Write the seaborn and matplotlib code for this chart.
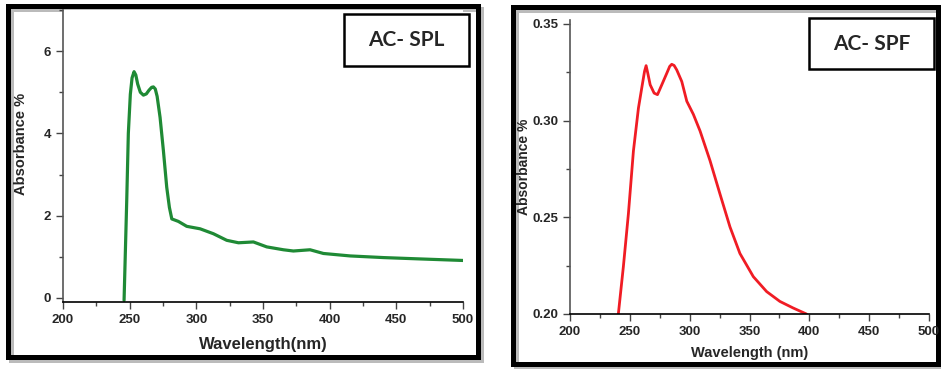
import numpy as np
import pandas as pd
import matplotlib
matplotlib.use("Agg")
import matplotlib.pyplot as plt
from matplotlib.patches import Rectangle
from matplotlib.ticker import MultipleLocator
import seaborn as sns

# AC- SPL spectrum (left)
spl_wl = [245.8, 247.8, 249.0, 250.5, 251.8, 253.3, 254.6, 256.0, 258.0, 260.3,
          262.5, 264.5, 266.5, 267.8, 269.2, 270.6, 272.8, 275.3, 277.8, 279.8,
          281.6, 286.5, 292.8, 302.8, 312.8, 322.8, 331.6, 342.8, 352.8, 365.3,
          372.8, 385.3, 395.3, 415.4, 440.4, 465.4, 500.0]
spl_abs = [-0.06, 2.37, 4.0, 4.95, 5.35, 5.5, 5.42, 5.2, 5.0, 4.93,
           4.96, 5.05, 5.12, 5.13, 5.08, 4.9, 4.39, 3.58, 2.69, 2.2,
           1.92, 1.86, 1.74, 1.68, 1.56, 1.40, 1.34, 1.36, 1.24, 1.17,
           1.14, 1.17, 1.08, 1.02, 0.98, 0.95, 0.91]

# AC- SPF spectrum (right)
spf_wl = [240.4, 244.6, 248.8, 253.0, 257.2, 260.0, 262.3, 263.6, 265.0, 267.0,
          270.3, 273.1, 276.7, 280.9, 283.3, 285.0, 287.0, 289.2, 293.4, 297.6,
          303.1, 308.7, 317.0, 325.3, 333.7, 342.0, 353.2, 364.3, 375.4, 386.5, 397.6]
spf_abs = [0.200, 0.2245, 0.2518, 0.2843, 0.3065, 0.3170, 0.3255, 0.3284, 0.3245, 0.3185,
           0.3142, 0.3134, 0.3185, 0.3245, 0.3280, 0.3291, 0.3285, 0.3262, 0.3202, 0.3100,
           0.3032, 0.2946, 0.2793, 0.2621, 0.2450, 0.2313, 0.2193, 0.2116, 0.2065, 0.2031, 0.2000]

df_spl = pd.DataFrame({"wl": spl_wl, "abs": spl_abs})
df_spf = pd.DataFrame({"wl": spf_wl, "abs": spf_abs})

sns.set_style("ticks")
plt.rcParams["font.family"] = ["Liberation Sans", "DejaVu Sans"]
plt.rcParams["font.weight"] = "bold"

W, H = 941, 369
fig = plt.figure(figsize=(W / 100, H / 100), dpi=100)

def px_box(x0, y0, x1, y1):
    # pixel rectangle (top-left origin) -> figure fraction [left, bottom, w, h]
    return [x0 / W, 1 - y1 / H, (x1 - x0) / W, (y1 - y0) / H]

ax1 = fig.add_axes(px_box(63, 10, 463, 302))
ax2 = fig.add_axes(px_box(570, 20, 929, 314))

sns.lineplot(data=df_spl, x="wl", y="abs", sort=False, ax=ax1,
             color="#1f8a35", linewidth=2.3)
sns.lineplot(data=df_spf, x="wl", y="abs", sort=False, ax=ax2,
             color="#f01c24", linewidth=2.0)

ax1.set_xlim(200, 500)
ax1.set_ylim(-0.1, 7.0)
ax1.xaxis.set_major_locator(MultipleLocator(50))
ax1.xaxis.set_minor_locator(MultipleLocator(25))
ax1.yaxis.set_major_locator(MultipleLocator(2))
ax1.yaxis.set_minor_locator(MultipleLocator(1))

ax2.set_xlim(200, 500)
ax2.set_ylim(0.2, 0.352)
ax2.xaxis.set_major_locator(MultipleLocator(50))
ax2.xaxis.set_minor_locator(MultipleLocator(25))
ax2.yaxis.set_major_locator(MultipleLocator(0.05))
ax2.yaxis.set_minor_locator(MultipleLocator(0.025))
ax2.yaxis.set_major_formatter(matplotlib.ticker.FormatStrFormatter("%.2f"))

for ax in (ax1, ax2):
    sns.despine(ax=ax)
    ax.spines["left"].set_color("#555555")
    ax.spines["bottom"].set_color("black")
    ax.spines["left"].set_linewidth(1.2)
    ax.spines["bottom"].set_linewidth(1.2)
    ax.tick_params(which="major", direction="out", length=5, width=1,
                   labelsize=9.5, color="#444444")
    ax.tick_params(which="minor", direction="out", length=3, width=1,
                   color="#444444")
    for lab in ax.get_xticklabels() + ax.get_yticklabels():
        lab.set_fontweight("bold")
    ax.set_facecolor("white")

ax1.set_xlabel("Wavelength(nm)", fontsize=12, fontweight="bold", labelpad=8)
ax1.set_ylabel("Absorbance %", fontsize=10.5, fontweight="bold")
ax1.yaxis.set_label_coords(-0.088, 0.54)
ax2.set_xlabel("Wavelength (nm)", fontsize=10.5, fontweight="bold", labelpad=6)
ax2.set_ylabel("Absorbance %", fontsize=10, fontweight="bold", labelpad=1)

# sample label boxes
for (x0, y0, x1, y1), txt in [((344, 14, 469, 66), "AC- SPL"),
                               ((809, 18, 934, 69), "AC- SPF")]:
    l, b, w, h = px_box(x0, y0, x1, y1)
    fig.patches.append(Rectangle((l, b), w, h, transform=fig.transFigure,
                                 fill=True, facecolor="white", edgecolor="black",
                                 linewidth=1.8, zorder=5))
    fig.text(l + w / 2, b + h / 2, txt, ha="center", va="center",
             fontsize=15, fontweight="bold", family=["Lato", "DejaVu Sans"],
             zorder=6)

# thick panel frames with a soft shadow (kept behind the axes)
for (x0, y0, x1, y1) in [(7.5, 5.5, 477.5, 357), (512.5, 6.5, 938, 364)]:
    l, b, w, h = px_box(x0, y0, x1, y1)
    fig.patches.append(Rectangle((l + 3 / W, b - 3 / H), w, h,
                                 transform=fig.transFigure, fill=False,
                                 edgecolor="#bbbbbb", linewidth=3.6, zorder=-2))
    fig.patches.append(Rectangle((l, b), w, h, transform=fig.transFigure,
                                 fill=False, edgecolor="black",
                                 linewidth=3.6, zorder=-1))

fig.savefig("out.png", dpi=100)
